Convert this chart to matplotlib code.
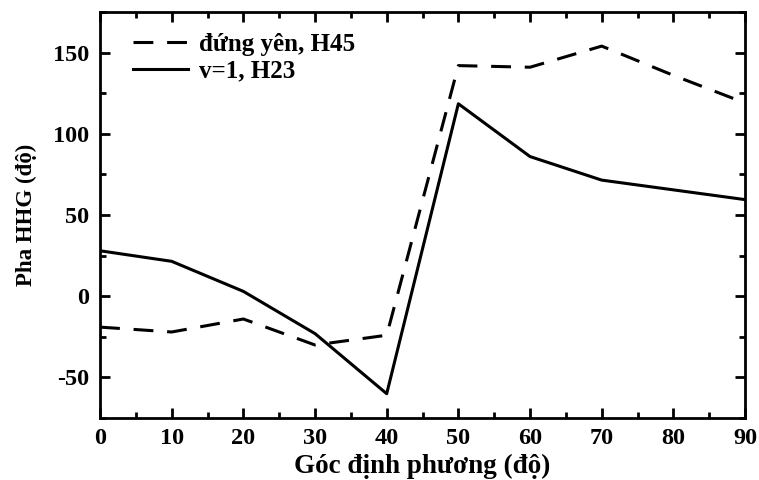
import matplotlib
matplotlib.use('Agg')
import matplotlib.pyplot as plt
from matplotlib.ticker import MultipleLocator

# goc dinh phuong (do)
angles = [0, 10, 20, 30, 40, 50, 60, 70, 80, 90]
# pha HHG (do)
pha_dung_yen = [-19, -22, -14, -30, -24, 142, 141, 154, 136, 119]
pha_v1 = [28, 21.5, 3, -23, -60, 118.5, 86, 71.5, 65.5, 59.5]

plt.rcParams['font.family'] = ['Liberation Serif', 'DejaVu Serif']
plt.rcParams['font.weight'] = 'bold'
plt.rcParams['axes.unicode_minus'] = False

fig = plt.figure(figsize=(7.59, 4.8), dpi=100)
ax = fig.add_axes([0.1318, 0.129, 0.8498, 0.846])

ax.plot(angles, pha_dung_yen, color='black', lw=2.2, linestyle=(0, (6.5, 4.5)), label='đứng yên, H45')
ax.plot(angles, pha_v1, color='black', lw=2.2, label='v=1, H23')

ax.set_xlim(0, 90)
ax.set_ylim(-75, 175)
ax.xaxis.set_major_locator(MultipleLocator(10))
ax.xaxis.set_minor_locator(MultipleLocator(5))
ax.yaxis.set_major_locator(MultipleLocator(50))
ax.yaxis.set_minor_locator(MultipleLocator(25))
ax.tick_params(which='both', direction='in', top=True, right=True, width=2, labelsize=17.5)
ax.tick_params(which='major', length=7)
ax.tick_params(which='minor', length=4)
ax.tick_params(axis='x', pad=7)
ax.tick_params(axis='y', pad=8)
for s in ax.spines.values():
    s.set_linewidth(2)
for lab in ax.get_xticklabels() + ax.get_yticklabels():
    lab.set_fontweight('bold')

ax.set_xlabel('Góc định phương (độ)', fontsize=19.5, fontweight='bold', labelpad=4)
ax.set_ylabel('Pha HHG (độ)', fontsize=16.5, fontweight='bold')
ax.yaxis.set_label_coords(-0.097, 0.5)

ax.legend(loc='upper left', bbox_to_anchor=(0.035, 0.973), frameon=False, fontsize=18,
          handlelength=2.2, handletextpad=0.45, borderaxespad=0, labelspacing=0.15)

fig.savefig('out.png', dpi=100)
